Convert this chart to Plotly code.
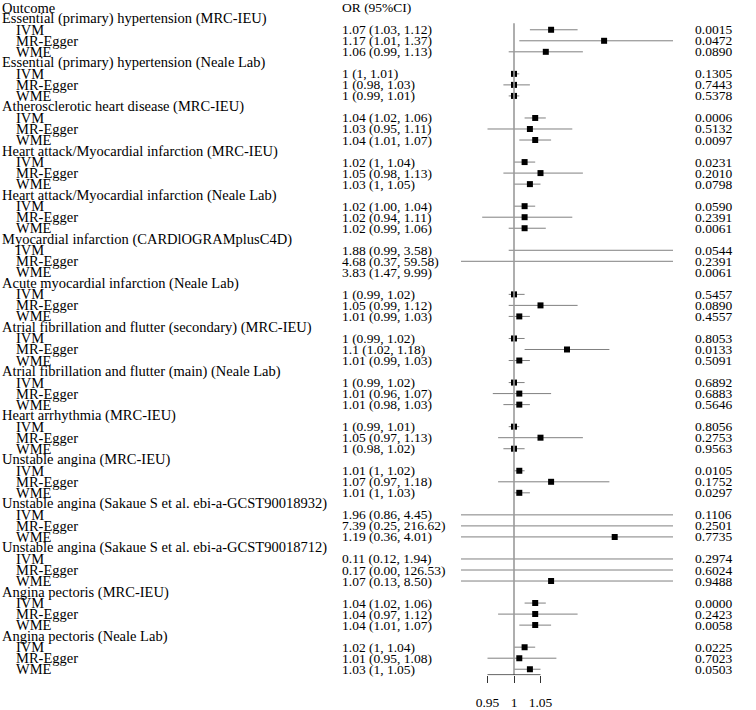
import plotly.graph_objects as go

# ---------------- data ----------------
groups = [
    "Essential (primary) hypertension (MRC-IEU)",
    "Essential (primary) hypertension (Neale Lab)",
    "Atherosclerotic heart disease (MRC-IEU)",
    "Heart attack/Myocardial infarction (MRC-IEU)",
    "Heart attack/Myocardial infarction (Neale Lab)",
    "Myocardial infarction (CARDlOGRAMplusC4D)",
    "Acute myocardial infarction (Neale Lab)",
    "Atrial fibrillation and flutter (secondary) (MRC-IEU)",
    "Atrial fibrillation and flutter (main) (Neale Lab)",
    "Heart arrhythmia (MRC-IEU)",
    "Unstable angina (MRC-IEU)",
    "Unstable angina (Sakaue S et al. ebi-a-GCST90018932)",
    "Unstable angina (Sakaue S et al. ebi-a-GCST90018712)",
    "Angina pectoris (MRC-IEU)",
    "Angina pectoris (Neale Lab)",
]
methods = ["IVM", "MR-Egger", "WME"]

or_vals = [1.07, 1.17, 1.06,  1.00, 1.00, 1.00,  1.04, 1.03, 1.04,
           1.02, 1.05, 1.03,  1.02, 1.02, 1.02,  1.88, 4.68, 3.83,
           1.00, 1.05, 1.01,  1.00, 1.10, 1.01,  1.00, 1.01, 1.01,
           1.00, 1.05, 1.00,  1.01, 1.07, 1.01,  1.96, 7.39, 1.19,
           0.11, 0.17, 1.07,  1.04, 1.04, 1.04,  1.02, 1.01, 1.03]
lo_vals = [1.03, 1.01, 0.99,  1.00, 0.98, 0.99,  1.02, 0.95, 1.01,
           1.00, 0.98, 1.00,  1.00, 0.94, 0.99,  0.99, 0.37, 1.47,
           0.99, 0.99, 0.99,  0.99, 1.02, 0.99,  0.99, 0.96, 0.98,
           0.99, 0.97, 0.98,  1.00, 0.97, 1.00,  0.86, 0.25, 0.36,
           0.12, 0.00, 0.13,  1.02, 0.97, 1.01,  1.00, 0.95, 1.00]
hi_vals = [1.12, 1.37, 1.13,  1.01, 1.03, 1.01,  1.06, 1.11, 1.07,
           1.04, 1.13, 1.05,  1.04, 1.11, 1.06,  3.58, 59.58, 9.99,
           1.02, 1.12, 1.03,  1.02, 1.18, 1.03,  1.02, 1.07, 1.03,
           1.01, 1.13, 1.02,  1.02, 1.18, 1.03,  4.45, 216.62, 4.01,
           1.94, 126.53, 8.50,  1.06, 1.12, 1.07,  1.04, 1.08, 1.05]
or_text = ["1.07 (1.03, 1.12)", "1.17 (1.01, 1.37)", "1.06 (0.99, 1.13)",
           "1 (1, 1.01)", "1 (0.98, 1.03)", "1 (0.99, 1.01)",
           "1.04 (1.02, 1.06)", "1.03 (0.95, 1.11)", "1.04 (1.01, 1.07)",
           "1.02 (1, 1.04)", "1.05 (0.98, 1.13)", "1.03 (1, 1.05)",
           "1.02 (1.00, 1.04)", "1.02 (0.94, 1.11)", "1.02 (0.99, 1.06)",
           "1.88 (0.99, 3.58)", "4.68 (0.37, 59.58)", "3.83 (1.47, 9.99)",
           "1 (0.99, 1.02)", "1.05 (0.99, 1.12)", "1.01 (0.99, 1.03)",
           "1 (0.99, 1.02)", "1.1 (1.02, 1.18)", "1.01 (0.99, 1.03)",
           "1 (0.99, 1.02)", "1.01 (0.96, 1.07)", "1.01 (0.98, 1.03)",
           "1 (0.99, 1.01)", "1.05 (0.97, 1.13)", "1 (0.98, 1.02)",
           "1.01 (1, 1.02)", "1.07 (0.97, 1.18)", "1.01 (1, 1.03)",
           "1.96 (0.86, 4.45)", "7.39 (0.25, 216.62)", "1.19 (0.36, 4.01)",
           "0.11 (0.12, 1.94)", "0.17 (0.00, 126.53)", "1.07 (0.13, 8.50)",
           "1.04 (1.02, 1.06)", "1.04 (0.97, 1.12)", "1.04 (1.01, 1.07)",
           "1.02 (1, 1.04)", "1.01 (0.95, 1.08)", "1.03 (1, 1.05)"]
p_text = ["0.0015", "0.0472", "0.0890", "0.1305", "0.7443", "0.5378",
          "0.0006", "0.5132", "0.0097", "0.0231", "0.2010", "0.0798",
          "0.0590", "0.2391", "0.0061", "0.0544", "0.2391", "0.0061",
          "0.5457", "0.0890", "0.4557", "0.8053", "0.0133", "0.5091",
          "0.6892", "0.6883", "0.5646", "0.8056", "0.2753", "0.9563",
          "0.0105", "0.1752", "0.0297", "0.1106", "0.2501", "0.7735",
          "0.2974", "0.6024", "0.9488", "0.0000", "0.2423", "0.0058",
          "0.0225", "0.7023", "0.0503"]
x_ticks = [0.95, 1, 1.05]
x_tick_labels = ["0.95", "1", "1.05"]
header_outcome = "Outcome"
header_or = "OR (95%CI)"

# ---------------- layout helpers ----------------
W, H = 756, 710
XMIN, XMAX = 0.9, 1.3
NUM_FONT = dict(family="Liberation Serif", size=13.5, color="black")
LAB_FONT = dict(family="Liberation Serif", size=14.5, color="black")
n_methods = len(methods)
title_rows = [1 + 4 * g for g in range(len(groups))]
est_rows = [2 + 4 * g + m for g in range(len(groups)) for m in range(n_methods)]
est_methods = [methods[m] for g in range(len(groups)) for m in range(n_methods)]

Y_TOP, Y_BOT = -0.7, 60.54
X_LABEL, X_INDENT, X_OR, X_P = 0, 14, 340, 693

fig = go.Figure()

# CI lines, clipped to the visible axis range (as forestplot does)
cx, cy = [], []
for lo, hi, r in zip(lo_vals, hi_vals, est_rows):
    a, b = max(lo, XMIN), min(hi, XMAX)
    if a < b:
        cx += [a, b, None]
        cy += [r, r, None]
fig.add_trace(go.Scatter(x=cx, y=cy, mode="lines",
                         line=dict(color="#808080", width=1),
                         hoverinfo="skip", showlegend=False))
# point estimates that fall inside the axis range
px_, py_ = [], []
for v, r in zip(or_vals, est_rows):
    if XMIN <= v <= XMAX:
        px_.append(v)
        py_.append(r)
fig.add_trace(go.Scatter(x=px_, y=py_, mode="markers",
                         marker=dict(symbol="square", size=6, color="black"),
                         showlegend=False))

# reference line at OR = 1
fig.add_shape(type="line", xref="x", yref="y", x0=1, x1=1, y0=1.4, y1=Y_BOT,
              line=dict(color="#9a9a9a", width=1.6))
# axis line limited to tick range
fig.add_shape(type="line", xref="x", yref="y", x0=x_ticks[0], x1=x_ticks[-1],
              y0=Y_BOT - 0.03, y1=Y_BOT - 0.03, line=dict(color="#333333", width=1))

ann = []
def txt(x, y, s, font):
    ann.append(dict(x=x / W, xref="paper", y=y, yref="y", text=s, showarrow=False,
                    xanchor="left", yanchor="middle", font=font))

txt(X_LABEL, 0, header_outcome, LAB_FONT)
txt(X_OR, 0, header_or, NUM_FONT)
for g, r in zip(groups, title_rows):
    txt(X_LABEL, r, g, LAB_FONT)
for m, r, o, p in zip(est_methods, est_rows, or_text, p_text):
    txt(X_INDENT, r, m, LAB_FONT)
    txt(X_OR, r, o, NUM_FONT)
    txt(X_P, r, p, NUM_FONT)

fig.update_layout(
    width=W, height=H, margin=dict(l=0, r=0, t=0, b=0),
    paper_bgcolor="white", plot_bgcolor="white",
    annotations=ann, showlegend=False,
    xaxis=dict(domain=[461 / W, 673 / W], range=[XMIN, XMAX], showgrid=False,
               zeroline=False, showline=False, tickvals=x_ticks,
               ticktext=x_tick_labels, ticks="outside", ticklen=7,
               tickcolor="#333333", tickfont=NUM_FONT, ticklabelstandoff=8),
    yaxis=dict(domain=[(H - 679) / H, 1], range=[Y_BOT, Y_TOP], showgrid=False,
               zeroline=False, showline=False, showticklabels=False, ticks=""),
)

fig.write_html("out.html", config={"displayModeBar": False},
               post_script="document.body.style.margin='0';document.body.style.overflow='hidden';")
